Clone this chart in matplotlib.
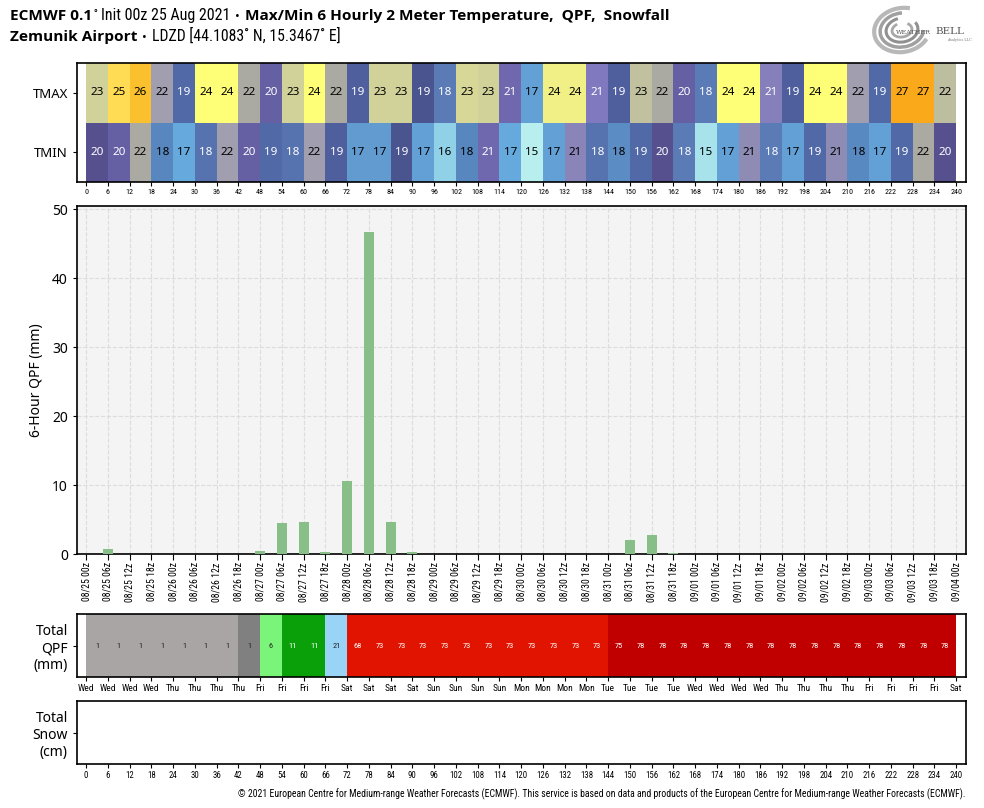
import datetime as dt
import numpy as np
import matplotlib
matplotlib.use("Agg")
import matplotlib.pyplot as plt
from matplotlib import font_manager
from matplotlib.colors import LinearSegmentedColormap, BoundaryNorm, ListedColormap, to_rgb
from matplotlib.patches import Arc

# ---------------- data ----------------
init_time = dt.datetime(2021, 8, 25, 0)
hours = list(range(0, 241, 6))          # forecast hours (tick positions / period edges)

# 6-hourly max / min 2 m temperature (degC), one per 6 h period starting at hours[:-1]
tmax = [23.0, 25.0, 26.0, 21.7, 18.6, 24.0, 24.0, 22.0, 20.2, 23.0,
        24.0, 22.0, 19.0, 23.0, 23.0, 19.4, 18.3, 23.1, 23.0, 20.7,
        17.3, 23.55, 23.55, 21.0, 19.0, 22.55, 22.0, 20.2, 18.3, 24.0,
        24.0, 21.15, 19.0, 24.0, 24.0, 21.7, 18.6, 27.0, 27.0, 22.45]
tmin = [19.8, 20.2, 22.0, 18.0, 17.0, 18.45, 21.7, 20.2, 18.6, 18.45,
        21.7, 19.0, 17.45, 17.45, 19.4, 17.3, 16.0, 18.0, 20.7, 17.0,
        15.0, 17.3, 21.25, 18.45, 17.85, 18.6, 19.8, 18.3, 15.45, 17.3,
        21.4, 18.3, 17.3, 18.6, 21.4, 17.95, 17.3, 18.6, 22.0, 19.8]

# 6-hour QPF (mm) valid at each forecast hour
qpf = [0.0, 0.7, 0.0, 0.0, 0.0, 0.0, 0.0, 0.0, 0.5, 4.5,
       4.7, 0.3, 10.6, 46.7, 4.7, 0.3, 0.0, 0.0, 0.0, 0.0,
       0.0, 0.0, 0.0, 0.0, 0.0, 2.0, 2.8, 0.2, 0.0, 0.0,
       0.0, 0.0, 0.0, 0.0, 0.0, 0.0, 0.0, 0.0, 0.0, 0.0, 0.0]

# accumulated QPF (mm) shown per 6 h period
total_qpf = [0.7, 0.7, 0.7, 0.7, 0.7, 0.7, 0.7, 1.2, 5.7, 10.6,
             10.9, 21.3, 68.0, 72.7, 73.0, 73.0, 73.0, 73.0, 73.0, 73.0,
             73.0, 73.0, 73.0, 73.0, 75.0, 77.8, 77.8, 77.8, 77.8, 77.8,
             77.8, 77.8, 77.8, 77.8, 77.8, 77.8, 77.8, 77.8, 77.8, 77.8]

temp_anchor_vals = [14.5, 15.0, 15.5, 16.0, 16.5, 17.0, 17.3, 17.6, 18.0, 18.3, 18.6, 19.0,
                    19.4, 19.8, 20.2, 20.7, 21.0, 21.4, 21.7, 22.0, 22.5, 23.0, 23.5, 24.0,
                    25.0, 26.0, 27.0]
temp_anchor_cols = ['#c8f6f2', '#b8eeee', '#a5e0ea', '#90d0e8', '#74b8e0', '#66aadd', '#62a0d5',
                    '#5f95c8', '#5886bf', '#5a7ab5', '#5068a5', '#4f5f9e', '#4a558f', '#57508f',
                    '#6660a5', '#7068b0', '#8078c0', '#8d8bb5', '#a19eb0', '#aaaaa2', '#c0c0a0',
                    '#cfcf9b', '#eeee8a', '#ffff77', '#ffdd55', '#fbc02e', '#f9a91a']

qpf_bounds = [0, 1, 2.5, 5, 10, 20, 50, 74.5, 200]
qpf_cols = ['#aaa5a5', '#808080', '#c8f5b4', '#7af57a', '#0aa00a', '#99d3f5', '#e01400', '#c00000']

# ---------------- fonts ----------------
ttf = font_manager.fontManager.ttflist
names = {f.name for f in ttf}


def _wnum(w):
    if isinstance(w, (int, float)):
        return w
    return {'bold': 700, 'heavy': 800, 'black': 900, 'semibold': 600, 'demibold': 600,
            'extra bold': 800, 'ultrabold': 800}.get(str(w).lower(), 400)


def _snum(s):
    if isinstance(s, (int, float)):
        return s
    return {'condensed': 300, 'semi-condensed': 400, 'extra-condensed': 200,
            'ultra-condensed': 100, 'narrow': 300}.get(str(s).lower(), 500)


def has_bold(name):
    return any(f.name == name and _wnum(f.weight) >= 600 for f in ttf)


MAIN = 'Noto Sans' if 'Noto Sans' in names else 'DejaVu Sans'
BOLD = next((n for n in ['Noto Sans', 'Open Sans', 'Lato', 'Roboto', 'DejaVu Sans'] if has_bold(n)),
            'DejaVu Sans')

narrow_fp = None
for n in ['Liberation Sans Narrow', 'Roboto Condensed', 'Open Sans Condensed', 'Noto Sans Condensed']:
    if n in names:
        narrow_fp = dict(family=[n, 'DejaVu Sans'])
        break
if narrow_fp is None:
    cond = [f for f in ttf if _snum(f.stretch) <= 400 and _wnum(f.weight) < 600]
    if cond:
        pref = [f for f in cond if 'Sans' in f.name] or cond
        narrow_fp = dict(family=[pref[0].name, 'DejaVu Sans'], fontstretch=pref[0].stretch)
    else:
        narrow_fp = dict(family=[MAIN, 'DejaVu Sans'])

plt.rcParams['font.family'] = [MAIN, 'DejaVu Sans']
plt.rcParams['axes.linewidth'] = 1.2

W, H = 984, 808
fig = plt.figure(figsize=(W / 100, H / 100), dpi=100)


def ax_px(l, t, r, b):
    return fig.add_axes([l / W, 1 - b / H, (r - l) / W, (b - t) / H])


def set_narrow(labels, size):
    for lab in labels:
        lab.set_fontsize(size)
        lab.set_family(narrow_fp['family'])
        if 'fontstretch' in narrow_fp:
            lab.set_fontstretch(narrow_fp['fontstretch'])


XL = (-2.5, 242.7)
edges = np.array(hours)
centers = (edges[:-1] + edges[1:]) / 2.0


def lum(c):
    r, g, b = to_rgb(c)
    return 0.299 * r + 0.587 * g + 0.114 * b


def rnd(v):
    return int(np.floor(v + 0.5))


# ---------------- temperature panel ----------------
lo, hi = temp_anchor_vals[0], temp_anchor_vals[-1]
tcmap = LinearSegmentedColormap.from_list(
    'tcm', [((v - lo) / (hi - lo), c) for v, c in zip(temp_anchor_vals, temp_anchor_cols)])
axT = ax_px(77, 63, 966, 182)
tdata = np.array([tmin, tmax])
axT.pcolormesh(edges, [0, 1, 2], tdata, cmap=tcmap, vmin=lo, vmax=hi)
for row, vals in enumerate([tmin, tmax]):
    for xc, v in zip(centers, vals):
        col = 'white' if 18.1 < v < 21.2 else 'black'
        axT.text(xc, row + 0.5, str(rnd(v)), ha='center', va='center', fontsize=8.4, color=col)
axT.set_xlim(*XL)
axT.set_ylim(0, 2)
axT.set_yticks([0.5, 1.5])
axT.set_yticklabels(['TMIN', 'TMAX'], fontsize=9.5)
axT.set_xticks(hours)
axT.set_xticklabels([str(h) for h in hours])
set_narrow(axT.get_xticklabels(), 5.8)
axT.tick_params(axis='x', length=3, pad=2)
axT.tick_params(axis='y', length=3)

# ---------------- 6-hour QPF bars ----------------
axM = ax_px(77, 206, 966, 554)
axM.set_facecolor('#f4f4f4')
axM.bar(hours, qpf, width=2.8, color='#88bf88', zorder=3)
axM.set_xlim(*XL)
axM.set_ylim(0, 50.5)
axM.set_yticks(range(0, 51, 10))
axM.tick_params(axis='y', labelsize=10, length=3)
axM.set_xticks(hours)
axM.set_xticklabels([(init_time + dt.timedelta(hours=h)).strftime('%m/%d %Hz') for h in hours],
                    rotation=90)
set_narrow(axM.get_xticklabels(), 7.0)
axM.tick_params(axis='x', length=4, pad=2)
axM.grid(True, ls='--', color='#dcdcdc', lw=0.8, zorder=0)
axM.set_axisbelow(True)
axM.set_ylabel('6-Hour QPF (mm)', fontsize=10, labelpad=6)

# ---------------- total QPF strip ----------------
axQ = ax_px(77, 614, 966, 677)
qnorm = BoundaryNorm(qpf_bounds, len(qpf_cols))
qcmap = ListedColormap(qpf_cols)
axQ.pcolormesh(edges, [0, 1], np.array([total_qpf]), cmap=qcmap, norm=qnorm)
for xc, v in zip(centers, total_qpf):
    c = qcmap(qnorm(v))
    tc = 'white' if lum(c) < 0.45 else '#222222'
    t = axQ.text(xc, 0.5, str(rnd(v)), ha='center', va='center', color=tc)
    set_narrow([t], 6.0)
axQ.set_xlim(*XL)
axQ.set_ylim(0, 1)
axQ.set_yticks([0.5])
axQ.set_yticklabels(['Total\nQPF\n(mm)'], fontsize=10)
axQ.set_xticks(hours)
axQ.set_xticklabels([(init_time + dt.timedelta(hours=h)).strftime('%a') for h in hours])
set_narrow(axQ.get_xticklabels(), 6.8)
axQ.tick_params(axis='x', length=3, pad=2)
axQ.tick_params(axis='y', length=3)

# ---------------- total snow strip ----------------
axS = ax_px(77, 701, 966, 764)
axS.set_xlim(*XL)
axS.set_ylim(0, 1)
axS.set_yticks([0.5])
axS.set_yticklabels(['Total\nSnow\n(cm)'], fontsize=10)
axS.set_xticks(hours)
axS.set_xticklabels([str(h) for h in hours])
set_narrow(axS.get_xticklabels(), 6.3)
axS.tick_params(axis='x', length=3, pad=2)
axS.tick_params(axis='y', length=3)

# ---------------- titles ----------------
tax = fig.add_axes([0, 0, 1, 1], zorder=-5)
tax.axis('off')
tax.set_xlim(0, W)
tax.set_ylim(H, 0)
fig.canvas.draw()
renderer = fig.canvas.get_renderer()


def chain(x, y, parts):
    for s, kind, size, gap in parts:
        x += gap
        if kind == 'bold':
            t = tax.text(x, y, s, fontsize=size, fontweight='bold', family=[BOLD, 'DejaVu Sans'],
                         ha='left', va='baseline')
        elif kind == 'narrow':
            t = tax.text(x, y, s, ha='left', va='baseline')
            set_narrow([t], size)
        else:
            t = tax.text(x, y, s, fontsize=size, family=[MAIN, 'DejaVu Sans'],
                         ha='left', va='baseline')
        bb = t.get_window_extent(renderer)
        x += bb.width


chain(10, 20, [('ECMWF 0.1', 'bold', 11.1, 0),
               ('\u02da', 'normal', 9, 1),
               ('Init 00z 25 Aug 2021', 'narrow', 11.5, 4),
               ('\u2022', 'normal', 9, 5),
               ('Max/Min 6 Hourly 2 Meter Temperature,  QPF,  Snowfall', 'bold', 11.1, 5)])
chain(10, 41, [('Zemunik Airport', 'bold', 11.1, 0),
               ('\u2022', 'normal', 9, 5),
               ('LDZD [44.1083\u02da N, 15.3467\u02da E]', 'narrow', 11.3, 5)])

foot = fig.text(966 / W, 1 - 794 / H,
                '\u00a9 2021 European Centre for Medium-range Weather Forecasts (ECMWF). This service is based on '
                'data and products of the European Centre for Medium-range Weather Forecasts (ECMWF).',
                ha='right', va='center')
set_narrow([foot], 7.0)

# ---------------- logo (approximation) ----------------
lax = ax_px(872, 4, 972, 56)
lax.set_xlim(0, 100)
lax.set_ylim(0, 52)
lax.axis('off')
for (w, h, a, t1, t2, lw, col) in [(56, 44, 10, 60, 330, 3.0, '#b8b8b8'),
                                    (44, 34, 10, 80, 350, 2.5, '#a0a0a0'),
                                    (32, 24, 10, 100, 20, 2.2, '#909090'),
                                    (20, 14, 10, 120, 40, 2.0, '#a8a8a8')]:
    lax.add_patch(Arc((30, 26), w, h, angle=a, theta1=t1, theta2=t2, lw=lw, color=col))
lax.text(24, 24, 'WEATHER', fontsize=4.6, family='DejaVu Serif', color='#555555', va='center')
lax.text(63, 25, 'BELL', fontsize=7.5, family='DejaVu Serif', color='#555555', va='center')
lax.text(75, 16, 'Analytics LLC', fontsize=2.5, family='DejaVu Serif', color='#777777', va='center')

fig.savefig('out.png', dpi=100)
